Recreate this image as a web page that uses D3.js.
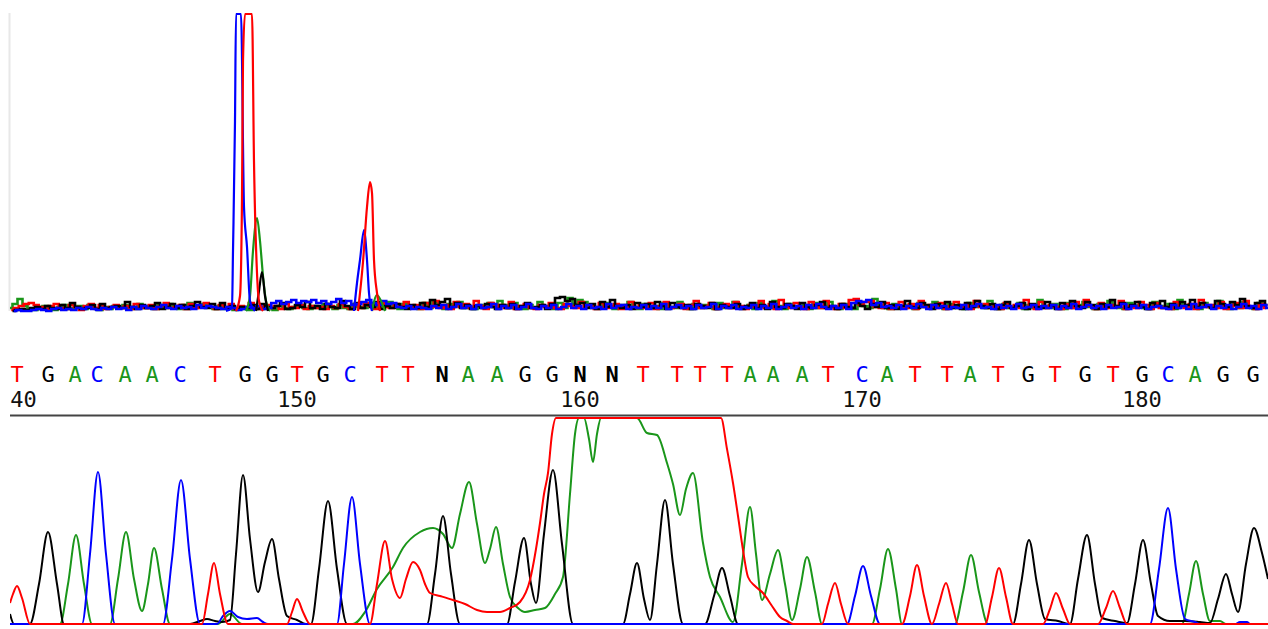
<!DOCTYPE html>
<html>
<head>
<meta charset="utf-8">
<script src="https://cdn.jsdelivr.net/npm/d3@7"></script>
<style>
  body { margin: 0; background: #fff; }
  svg { display: block; }
</style>
</head>
<body>
<div id="chart"></div>
<script>
// ---- data -------------------------------------------------------------

// base calls (first one is base 140) and the scan where each was called
const bases = "TGACAACTGGTGCTTNAAGGNNTTTTAAATCATTATGTGTGCAGG".split("");
const firstBase = 140;
const basePos = [17, 48, 75, 97, 125, 152, 180, 215, 245, 272, 297, 323, 350, 382, 408,
  442, 468, 497, 525, 552, 580, 612, 643, 677, 700, 727, 750, 773, 802, 828,
  862, 887, 915, 947, 970, 998, 1028, 1055, 1085, 1113, 1142, 1168, 1195, 1223, 1253];

// processed traces, [scan, signal]
const traceG = [[10,10],[14,0],[30,0],[39,40],[48,92],[57,40],[64,0],
  [190,0],[200,3],[207,5],[215,3],[222,2],[230,4],[236,70],[243,149],[250,85],[258,32],[265,62],[272,85],[279,45],[287,8],[297,4],[306,0],
  [311,0],[319,55],[328,123],[337,55],[347,0],
  [427,0],[435,50],[443,108],[451,50],[460,0],
  [507,0],[515,42],[524,86],[531,40],[536,21],[544,90],[553,154],[562,80],[573,0],
  [623,0],[630,30],[637,61],[644,25],[650,4],[657,60],[665,124],[673,60],[683,0],
  [705,0],[714,28],[722,56],[730,28],[738,0],
  [1013,0],[1021,40],[1029,84],[1037,40],[1045,5],[1058,3],[1070,0],[1078,45],[1087,89],[1095,40],[1102,6],[1115,3],
  [1127,1],[1135,40],[1143,84],[1151,40],[1158,8],[1170,3],[1185,3],[1200,2],[1210,1],[1218,25],[1226,50],[1232,30],[1238,12],
  [1246,60],[1254,96],[1262,71],[1268,45]];

const traceC = [[10,0],[82,0],[90,70],[98,152],[106,70],[115,0],
  [163,0],[172,65],[181,144],[190,65],[200,0],
  [217,0],[223,8],[230,13],[238,7],[247,5],[257,6],[263,2],[268,0],
  [337,0],[344,60],[352,127],[360,60],[370,0],
  [847,0],[855,28],[863,58],[871,28],[880,0],
  [1150,0],[1159,55],[1168,116],[1176,55],[1185,5],[1195,2],[1200,0],
  [1235,0],[1240,2],[1247,2],[1250,0],[1268,0]];

const traceA = [[10,0],[60,0],[68,40],[76,89],[84,40],[92,0],
  [110,0],[118,45],[126,92],[134,45],[142,13],[148,40],[154,76],[162,35],[170,0],
  [218,0],[230,10],[242,0],
  [353,0],[365,12],[377,35],[393,57],[403,76],[420,92],[433,96],[443,90],[452,76],[460,110],[469,142],[477,100],[485,61],
  [490,75],[496,97],[503,60],[510,27],[518,16],[525,12],[535,14],[545,16],[555,30],[563,47],[570,130],[575,190],[579,215],
  [584,222],[589,185],[593,162],[597,190],[601,215],[610,240],[625,240],[637,215],[647,191],[657,189],[667,161],[673,140],
  [680,109],[686,135],[693,151],[703,81],[710,47],[720,27],[733,2],[742,60],[750,117],[756,70],[762,24],[770,50],[778,74],
  [785,40],[792,4],[800,35],[807,67],[815,32],[822,0],
  [872,0],[880,35],[888,75],[896,35],[902,0],
  [955,0],[963,32],[971,69],[979,32],[988,0],
  [1182,0],[1189,30],[1196,63],[1203,30],[1210,3],[1220,3],[1226,0],[1268,0]];

const traceT = [[10,21],[13,30],[17,38],[22,26],[30,0],
  [202,0],[208,30],[214,61],[220,30],[228,0],
  [287,0],[292,12],[297,25],[303,12],[310,0],
  [370,0],[377,40],[385,83],[392,45],[400,26],[406,45],[413,62],[420,54],[425,40],[430,31],[440,28],[453,24],[465,20],
  [477,14],[487,12],[500,12],[510,16],[520,22],[530,44],[536,75],[540,101],[544,130],[548,151],[552,190],[556,215],
  [562,235],[600,240],[680,240],[716,235],[721,215],[727,175],[733,141],[738,108],[743,74],[748,47],[755,38],[763,31],
  [772,18],[780,7],[787,3],[793,0],
  [822,0],[828,20],[835,41],[841,20],[848,0],
  [902,0],[910,28],[917,59],[924,28],[932,0],[939,20],[946,41],[952,20],[958,0],
  [985,0],[992,27],[999,56],[1006,27],[1013,0],
  [1043,0],[1050,15],[1056,31],[1063,15],[1070,0],
  [1098,0],[1106,16],[1113,33],[1120,16],[1127,0],[1268,0]];

// overview panel: baseline noise, one sample every 5 scans from scan 10
const noiseStep = 5;
const noiseA = [3,7,12,5,2,1,3,5,2,1,4,6,2,3,5,2,6,3,1,4,2,
  5,3,6,2,4,7,3,5,2,6,3,7,5,2,6,8,3,5,7,4,2,
  5,2,4,1,3,2,1,2,4,2,3,1,5,3,2,4,6,3,2,5,3,
  7,4,2,6,3,2,7,4,3,8,5,3,6,9,4,2,7,3,5,2,8,
  3,9,4,2,7,5,9,3,4,2,6,3,8,4,10,6,3,8,4,2,6,
  3,9,5,4,2,8,3,13,7,11,9,6,3,4,8,5,2,6,3,9,4,
  2,7,3,5,2,8,4,3,9,5,2,7,3,6,4,2,8,3,5,9,4,
  3,6,2,8,4,3,10,5,2,7,4,3,6,2,8,3,5,9,4,2,7,
  4,2,8,5,3,12,6,3,2,7,4,3,6,2,8,4,3,9,5,2,7,
  3,5,2,8,4,6,3,10,5,2,7,3,4,8,2,6,3,11,5,3,7,
  4,2,8,3,6,9,4,2,7,3,10,5,3,2,8,4,6,3,2,9,5,
  3,7,2,11,5,3,6,2,8,4,3,10,5,2,7,3,9,4,2,8,5];
const noiseT = [1,3,5,7,8,6,4,2,5,7,3,2,6,4,1,5,7,3,6,2,4,
  6,3,5,2,7,4,3,6,2,5,8,3,4,6,2,7,3,5,8,4,2,
  6,3,7,2,5,4,8,3,2,6,3,5,2,7,4,3,6,2,5,3,4,
  2,5,3,7,4,2,6,3,8,5,2,9,4,3,7,5,9,3,6,2,8,
  4,10,3,6,2,9,4,7,3,10,5,2,8,4,6,3,9,2,5,7,3,
  2,6,4,8,3,2,7,5,3,9,4,6,2,8,3,5,7,2,4,9,3,
  6,3,8,2,5,9,3,4,7,2,6,10,3,5,8,2,4,7,3,9,5,
  2,6,4,10,3,7,2,11,5,3,8,4,2,9,6,3,10,4,2,7,3,
  11,12,6,9,10,4,3,8,2,5,9,3,7,2,10,4,6,3,8,2,5,
  9,3,6,2,10,4,7,3,5,2,8,4,6,3,11,5,2,9,3,6,4,
  2,7,3,9,4,11,5,2,8,3,6,4,10,2,5,3,9,6,2,8,3,
  4,2,9,5,3,7,2,11,4,6,3,9,2,5,8,3,10,4,2,7,3];
const noiseG = [0,1,2,1,3,4,2,5,3,2,6,3,8,4,2,3,6,2,7,3,4,
  5,3,9,4,2,6,3,5,8,2,4,7,3,6,2,5,9,4,3,7,2,
  8,3,5,2,4,3,6,2,7,4,3,5,8,2,3,6,4,9,3,5,2,
  7,4,3,10,5,2,8,3,6,4,9,2,5,3,7,4,2,6,3,8,4,
  11,6,9,12,4,8,3,6,2,5,3,7,4,2,6,3,7,2,5,8,3,
  4,6,2,7,13,14,10,12,6,8,3,7,2,9,4,11,5,3,6,2,8,
  4,7,3,9,5,2,8,4,3,6,2,7,5,3,8,2,6,4,3,7,2,
  5,8,3,6,2,9,4,3,7,5,2,8,4,3,6,9,3,5,2,7,4,
  3,8,5,2,7,4,9,3,6,2,5,10,4,3,8,6,2,7,4,9,3,
  6,2,8,4,10,5,3,7,2,6,9,3,5,8,2,7,4,3,9,5,2,
  8,4,10,5,3,9,6,2,7,4,11,5,8,3,6,9,4,2,8,5,10,
  4,7,3,9,6,11,4,8,5,3,10,7,4,9,6,12,5,3,8,10,6];
const noiseC = [0,1,0,0,1,2,1,0,2,3,1,2,1,3,2,4,2,1,3,2,4,
  2,3,1,4,2,5,3,2,4,6,3,2,5,3,4,2,6,3,5,4,3,
  2,4,3,1,2,4,3,5,2,3,8,10,7,9,11,8,10,9,11,8,10,
  7,9,12,8,10,6,7,9,11,8,6,10,7,8,4,3,5,2,4,3,2,
  5,3,6,2,4,7,3,5,2,6,3,4,7,2,5,3,6,2,4,7,3,
  2,5,3,6,2,4,7,3,5,2,6,3,4,2,7,3,5,6,2,4,3,
  6,2,5,3,7,2,4,6,3,5,2,6,3,4,7,2,5,3,6,2,4,
  3,6,2,5,3,7,2,4,6,3,5,2,6,3,7,4,2,5,3,6,2,
  8,10,9,11,6,8,4,5,3,6,2,5,3,7,4,2,6,3,5,2,4,
  3,6,2,5,7,3,4,2,6,3,5,2,7,3,4,6,2,5,3,6,2,
  5,3,7,2,4,6,3,5,2,6,3,4,7,2,5,3,6,2,4,5,3,
  2,6,3,5,2,7,3,4,6,2,5,3,6,2,4,7,3,5,2,6,3];

// overview panel: the off-scale dye blobs, one [scan, signal] list per blob
const blobC = [[[226,0],[232,3],[233,60],[235,190],[236,300],[241,320],[244,104],[247,64],[250,10],[255,0]],
  [[354,0],[357,28],[360,51],[364,81],[367,51],[369,18],[372,0]]];
const blobT = [[[236,0],[240,15],[242,113],[243,250],[245,330],[252,330],[254,149],[257,38],[259,10],[263,0]],
  [[358,0],[363,49],[367,104],[370,129],[372,118],[374,51],[377,18],[380,0]]];
const blobA = [[[246,0],[250,15],[253,60],[257,93],[260,70],[263,35],[266,10],[270,0]],
  [[372,0],[377,16],[380,12],[385,0]]];
const blobG = [[[256,0],[259,20],[262,39],[265,15],[268,0]]];

// ---- drawing ----------------------------------------------------------

const W = 1268, H = 629;
const dyeColor = {A: "#1a961a", C: "#0000ff", G: "#000000", T: "#ff0000", N: "#000000"};

const svg = d3.select("#chart").append("svg")
    .attr("width", W)
    .attr("height", H)
    .style("font-family", "'DejaVu Sans Mono', monospace");

const x = d3.scaleLinear().domain([10, 1268]).range([10, 1268]);
// off-scale signal is pinned to the top edge, like the viewer does
const yTop = d3.scaleLinear().domain([0, 297]).range([311, 14]).clamp(true);
const yBot = d3.scaleLinear().domain([0, 206]).range([624, 418]).clamp(true);

const defs = svg.append("defs");
defs.append("clipPath").attr("id", "clipTop")
  .append("rect").attr("x", 10).attr("y", 0).attr("width", W - 10).attr("height", 314);
defs.append("clipPath").attr("id", "clipBot")
  .append("rect").attr("x", 10).attr("y", 416.5).attr("width", W - 10).attr("height", 212);
defs.append("clipPath").attr("id", "clipText")
  .append("rect").attr("x", 10).attr("y", 340).attr("width", W - 10).attr("height", 75);

// overview panel
svg.append("line")
    .attr("x1", 9.5).attr("x2", 9.5)
    .attr("y1", 13).attr("y2", yTop(0))
    .attr("stroke", "#e8e8e8")
    .attr("stroke-width", 2);

const topPanel = svg.append("g").attr("clip-path", "url(#clipTop)");

const noiseSets = [["A", noiseA, 0], ["T", noiseT, 1.25], ["G", noiseG, 2.5], ["C", noiseC, 3.75]];
noiseSets.forEach(function([dye, vals, phase]) {
  const line = d3.line()
      .x((d, i) => x(10 + i * noiseStep + phase))
      .y(d => yTop(d))
      .curve(d3.curveStep);
  topPanel.append("path")
      .attr("d", line(vals))
      .attr("fill", "none")
      .attr("stroke", dyeColor[dye])
      .attr("stroke-width", 2.6);
});

const blobLine = d3.line()
    .x(d => x(d[0]))
    .y(d => yTop(d[1]))
    .curve(d3.curveMonotoneX);
[["A", blobA], ["G", blobG], ["C", blobC], ["T", blobT]].forEach(function([dye, blobs]) {
  topPanel.append("g").selectAll("path")
    .data(blobs)
    .join("path")
      .attr("d", blobLine)
      .attr("fill", "none")
      .attr("stroke", dyeColor[dye])
      .attr("stroke-width", 2.2);
});

// base calls and position ticks
const txt = svg.append("g").attr("clip-path", "url(#clipText)");

txt.selectAll("text.call")
  .data(bases)
  .join("text")
    .attr("class", "call")
    .attr("x", (d, i) => x(basePos[i]))
    .attr("y", 382)
    .attr("text-anchor", "middle")
    .style("font-size", "22px")
    .style("font-weight", d => d === "N" ? "bold" : "normal")
    .attr("fill", d => dyeColor[d])
    .text(d => d);

const tickIdx = d3.range(bases.length).filter(i => (firstBase + i) % 10 === 0);
txt.selectAll("text.pos")
  .data(tickIdx)
  .join("text")
    .attr("class", "pos")
    .attr("x", i => x(basePos[i]))
    .attr("y", 407)
    .attr("text-anchor", "middle")
    .style("font-size", "22px")
    .attr("fill", "#111")
    .text(i => firstBase + i);

svg.append("line")
    .attr("x1", 10).attr("x2", W)
    .attr("y1", 415.5).attr("y2", 415.5)
    .attr("stroke", "#444")
    .attr("stroke-width", 2);

// chromatogram
const botPanel = svg.append("g").attr("clip-path", "url(#clipBot)");
const traceLine = d3.line()
    .x(d => x(d[0]))
    .y(d => yBot(d[1]))
    .curve(d3.curveMonotoneX);

[["A", traceA], ["G", traceG], ["C", traceC], ["T", traceT]].forEach(function([dye, pts]) {
  botPanel.append("path")
      .attr("d", traceLine(pts))
      .attr("fill", "none")
      .attr("stroke", dyeColor[dye])
      .attr("stroke-width", 2)
      .attr("stroke-linejoin", "round");
});
</script>
</body>
</html>
